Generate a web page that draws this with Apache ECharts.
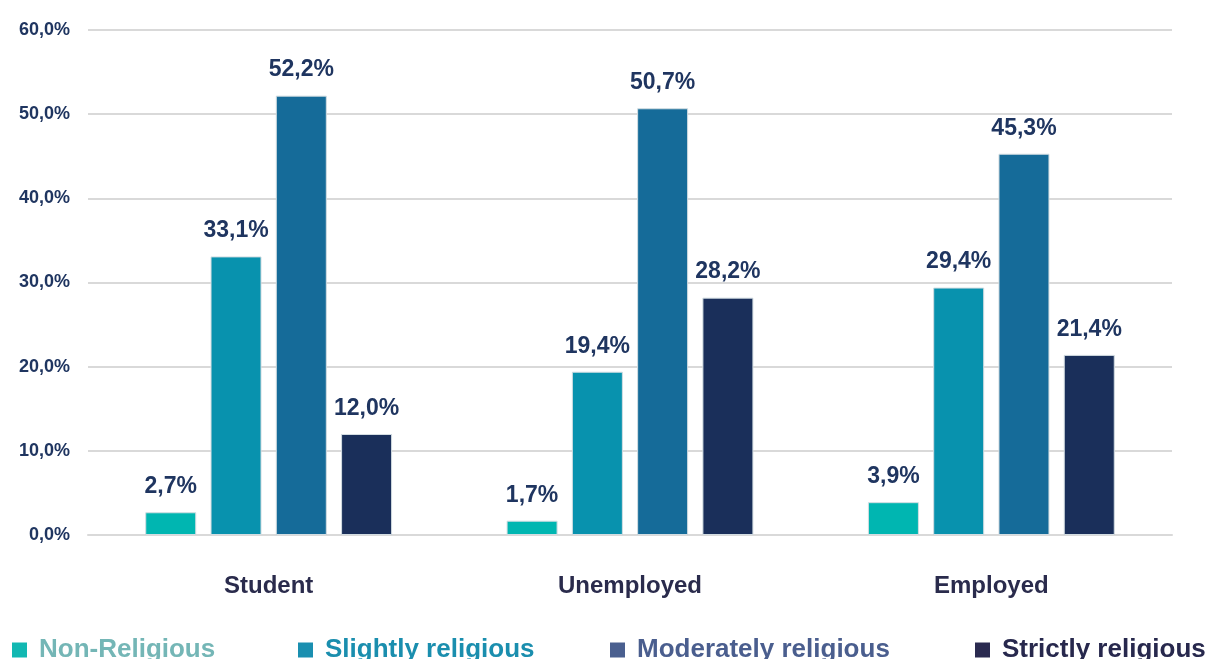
<!DOCTYPE html>
<html>
<head>
<meta charset="utf-8">
<script src="https://cdn.jsdelivr.net/npm/echarts@6/dist/echarts.min.js"></script>
<style>
  html, body { margin: 0; padding: 0; background: #fff; }
  #container { width: 1210px; height: 659px; }
</style>
</head>
<body>
<div id="container"></div>
<script>
var categories = ['Student', 'Unemployed', 'Employed'];
var seriesNames = ['Non-Religious', 'Slightly religious', 'Moderately religious', 'Strictly religious'];
var nonReligious = [2.7, 1.7, 3.9];
var slightly = [33.1, 19.4, 29.4];
var moderately = [52.2, 50.7, 45.3];
var strictly = [12.0, 28.2, 21.4];
var yTicks = [0, 10, 20, 30, 40, 50, 60];

var barColors = ['#00b6b1', '#0892ae', '#156b99', '#1a2f5a'];
var legendIconColors = ['#12b8b2', '#1a8fb0', '#4a5f8f', '#2a2a50'];
var legendTextColors = ['#74b6b6', '#1a8eae', '#4a5e8e', '#27284d'];
var legendLeft = [12, 298, 610, 975];
var fontFam = '"Liberation Sans", Arial, sans-serif';

var myChart = echarts.init(document.getElementById('container'));

function pct(v) {
  return v.toFixed(1).replace('.', ',') + '%';
}

function makeSeries(name, data, i) {
  return {
    name: name,
    type: 'bar',
    data: data,
    barWidth: 51,
    barGap: '28%',
    itemStyle: { color: barColors[i], borderColor: '#d3dde2', borderWidth: 1 },
    label: {
      show: true,
      position: 'top',
      distance: 14,
      formatter: function (p) { return pct(p.value); },
      color: '#1f3560',
      fontSize: 23,
      fontWeight: 'bold',
      fontFamily: fontFam
    }
  };
}

// one legend per item so each sits where the reference puts it
var legends = seriesNames.map(function (n, i) {
  return {
    left: legendLeft[i],
    top: 637,
    padding: 0,
    itemWidth: 15,
    itemHeight: 15,
    icon: 'rect',
    textStyle: { fontSize: 26, fontWeight: 'bold', fontFamily: fontFam, color: legendTextColors[i], padding: [0, 0, 0, 7] },
    data: [{ name: n, itemStyle: { color: legendIconColors[i], borderWidth: 0 } }]
  };
});

var option = {
  animation: false,
  grid: { left: 88, right: 38, top: 30, bottom: 124 },
  legend: legends,
  xAxis: {
    type: 'category',
    data: categories,
    axisLine: { lineStyle: { color: '#d9d9d9', width: 2 } },
    axisTick: { show: false },
    axisLabel: { margin: 39, fontSize: 24, fontWeight: 'bold', color: '#2a2b4c', fontFamily: fontFam }
  },
  yAxis: {
    type: 'value',
    min: yTicks[0],
    max: yTicks[yTicks.length - 1],
    interval: 10,
    splitLine: { lineStyle: { color: '#d9d9d9', width: 2 } },
    axisLabel: {
      margin: 18,
      fontSize: 18,
      fontWeight: 'bold',
      color: '#1f3560',
      fontFamily: fontFam,
      formatter: function (v) { return pct(v); }
    }
  },
  series: [
    makeSeries(seriesNames[0], nonReligious, 0),
    makeSeries(seriesNames[1], slightly, 1),
    makeSeries(seriesNames[2], moderately, 2),
    makeSeries(seriesNames[3], strictly, 3)
  ]
};

myChart.setOption(option);
</script>
</body>
</html>
